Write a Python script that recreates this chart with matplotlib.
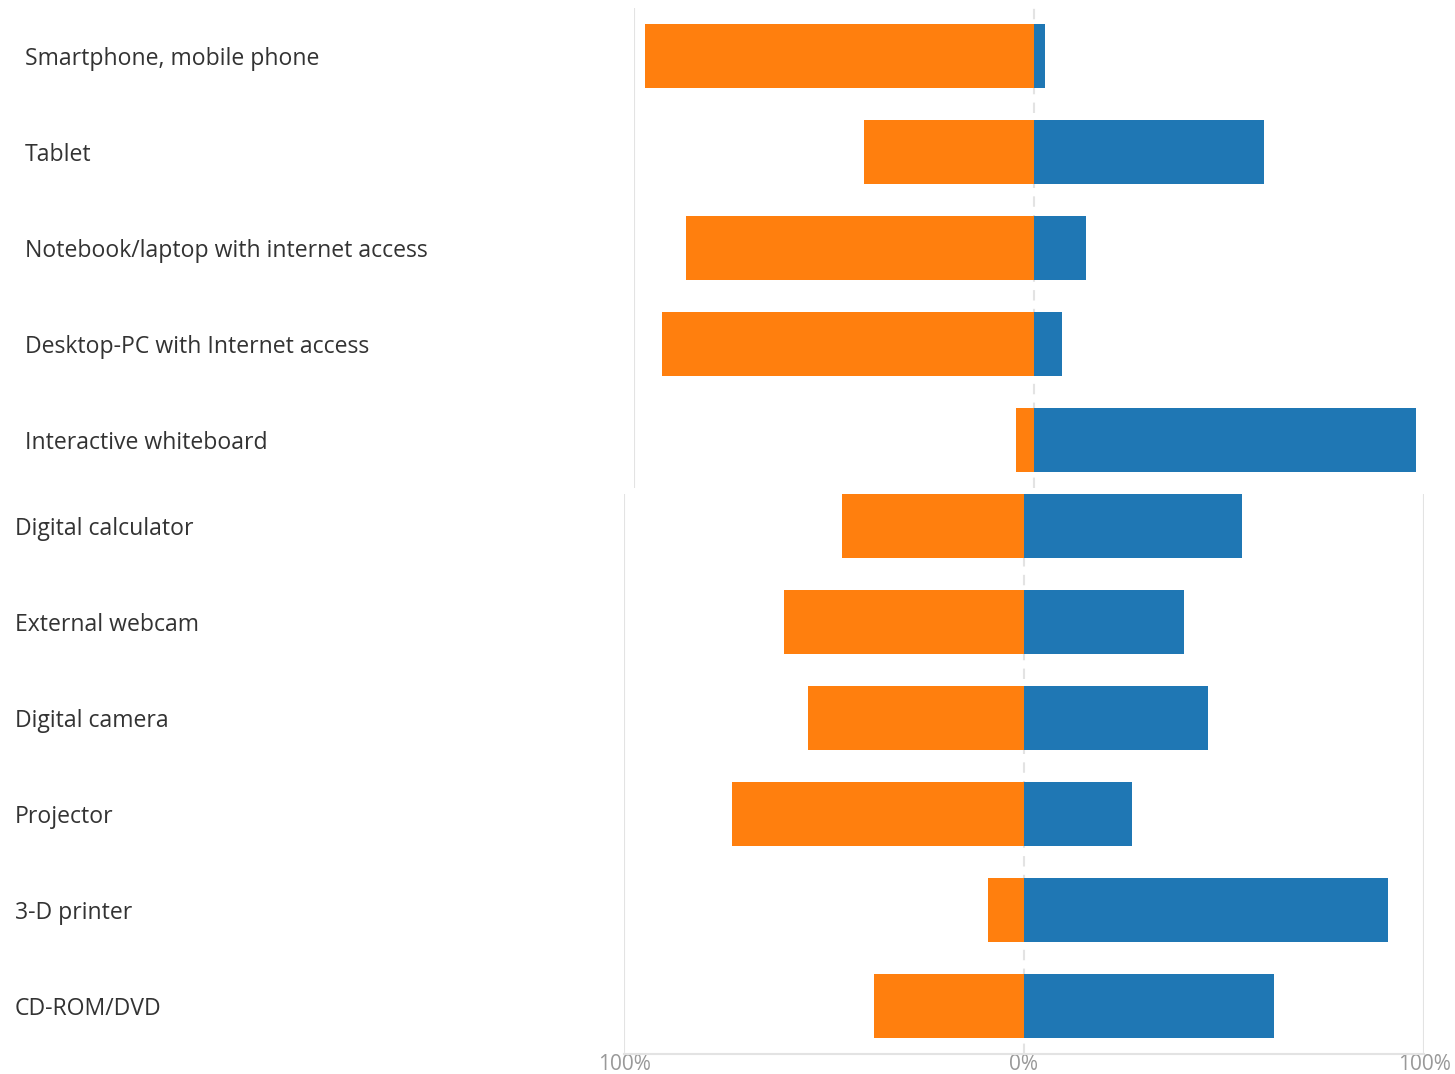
import matplotlib.pyplot as plt
from matplotlib.transforms import blended_transform_factory, offset_copy

# data (percent of answers)
top_items = ["Smartphone, mobile phone", "Tablet", "Notebook/laptop with internet access",
             "Desktop-PC with Internet access", "Interactive whiteboard"]
top_orange = [97.25, 42.5, 87.0, 93.0, 4.5]
top_blue = [2.75, 57.5, 13.0, 7.0, 95.5]

bottom_items = ["Digital calculator", "External webcam", "Digital camera",
                "Projector", "3-D printer", "CD-ROM/DVD"]
bottom_orange = [45.5, 60.0, 54.0, 73.0, 9.0, 37.5]
bottom_blue = [54.5, 40.0, 46.0, 27.0, 91.0, 62.5]

ticks = [-100, 0, 100]
tick_labels = ["100%", "0%", "100%"]

orange = "#ff7f0e"
blue = "#1f77b4"
grid_c = "#e3e3e3"

W, H = 1455, 1074
fig = plt.figure(figsize=(W / 100, H / 100), dpi=100)
plt.rcParams['font.family'] = ['Open Sans', 'DejaVu Sans']


def panel(left_px, top_px, bottom_px, items, o_vals, b_vals, ytop, label_x, last):
    ax = fig.add_axes([left_px / W, 1 - bottom_px / H, 800 / W, (bottom_px - top_px) / H])
    pos = list(range(len(items)))
    ax.barh(pos, [-v for v in o_vals], height=0.667, color=orange)
    ax.barh(pos, b_vals, height=0.667, color=blue)
    ax.set_xlim(-100, 100)
    ax.set_ylim(len(items) - 0.5, ytop)
    ax.axvline(-100, color=grid_c, lw=1.5, zorder=0)
    ax.axvline(0, color=grid_c, lw=1.5, ls=(0, (5, 4)), zorder=0)
    if last:
        ax.axvline(100, color=grid_c, lw=1.5, zorder=0)
    for s in ax.spines.values():
        s.set_visible(False)
    ax.set_yticks([])
    if last:
        ax.spines['bottom'].set_visible(True)
        ax.spines['bottom'].set_color(grid_c)
        ax.spines['bottom'].set_linewidth(1.5)
        ax.set_xticks(ticks)
        ax.set_xticklabels(tick_labels, color="#999999", fontsize=15)
        ax.tick_params(axis='x', length=0, pad=0)
    else:
        ax.set_xticks([])
    tr = blended_transform_factory(fig.transFigure, ax.transData)
    tr = offset_copy(tr, fig=fig, y=-3, units='dots')
    for i, name in enumerate(items):
        ax.text(label_x / W, i, name, transform=tr, ha='left', va='center',
                fontsize=16.6, color="#333333")
    return ax


panel(634, 8, 488, top_items, top_orange, top_blue, -0.5, 25, False)
panel(624, 494, 1054, bottom_items, bottom_orange, bottom_blue, -0.333, 15, True)

fig.savefig("out.png", dpi=100)
